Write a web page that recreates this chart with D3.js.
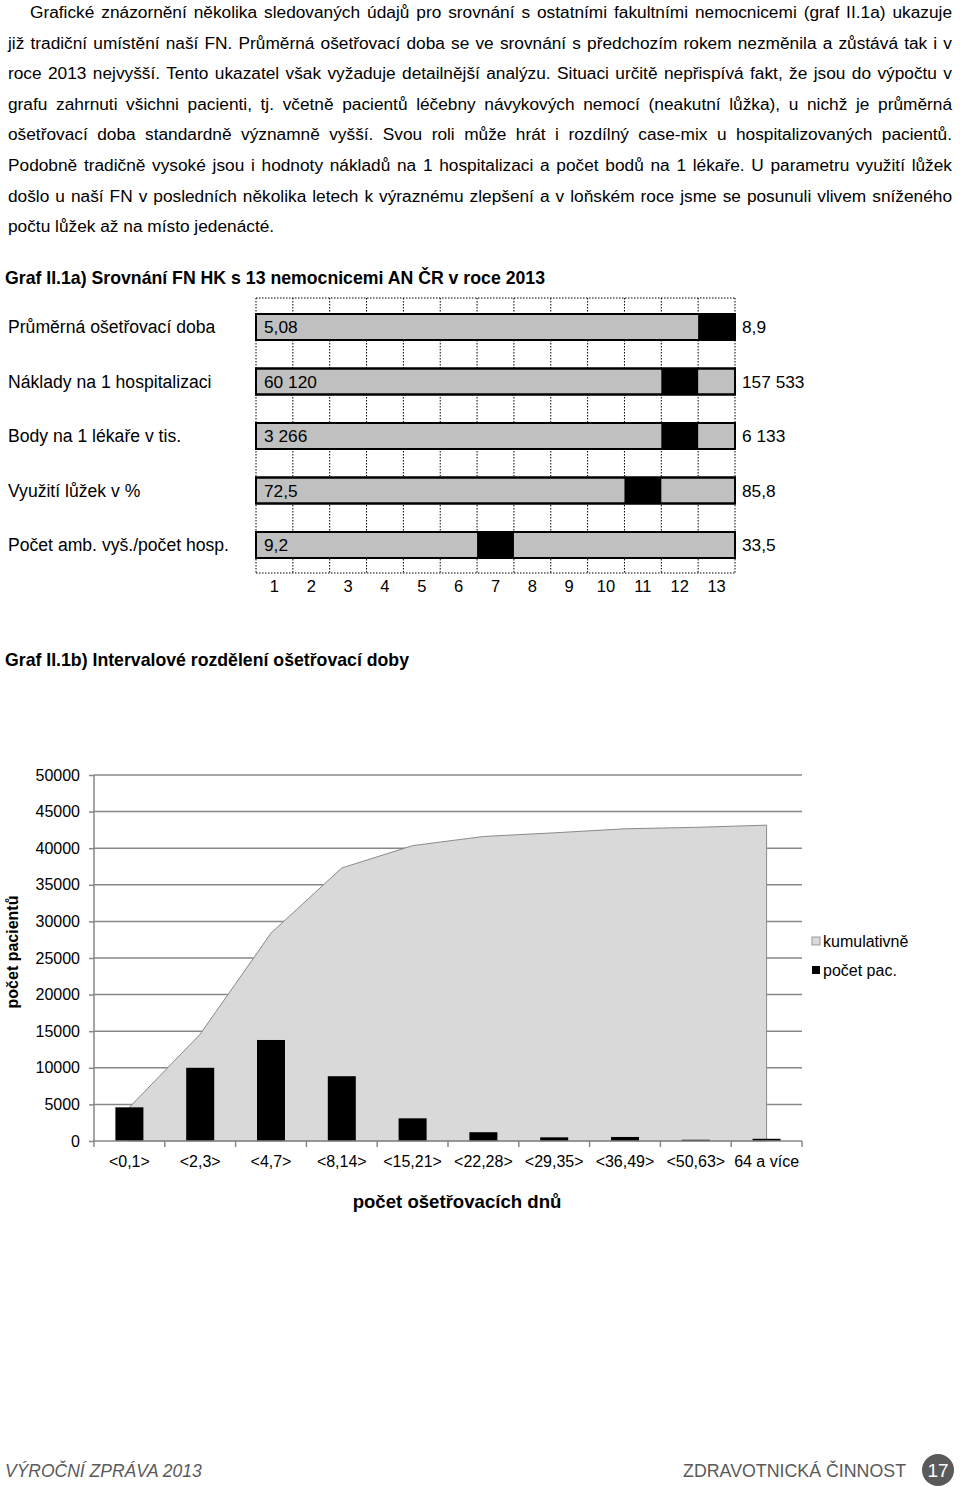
<!DOCTYPE html>
<html><head><meta charset="utf-8">
<script src="https://cdn.jsdelivr.net/npm/d3@7"></script>
<style>
html,body{margin:0;padding:0;background:#fff;}
svg{display:block;font-family:"Liberation Sans",Arial,sans-serif;}
</style></head>
<body>
<svg id="page" width="960" height="1487"></svg>
<script>
// ---------- DATA ----------
const bodyLines = [
  "Grafické znázornění několika sledovaných údajů pro srovnání s ostatními fakultními nemocnicemi (graf II.1a) ukazuje",
  "již tradiční umístění naší FN. Průměrná ošetřovací doba se ve srovnání s předchozím rokem nezměnila a zůstává tak i v",
  "roce 2013 nejvyšší. Tento ukazatel však vyžaduje detailnější analýzu. Situaci určitě nepřispívá fakt, že jsou do výpočtu v",
  "grafu zahrnuti všichni pacienti, tj. včetně pacientů léčebny návykových nemocí (neakutní lůžka), u nichž je průměrná",
  "ošetřovací doba standardně významně vyšší. Svou roli může hrát i rozdílný case-mix u hospitalizovaných pacientů.",
  "Podobně tradičně vysoké jsou i hodnoty nákladů na 1 hospitalizaci a počet bodů na 1 lékaře. U parametru využití lůžek",
  "došlo u naší FN v posledních několika letech k výraznému zlepšení a v loňském roce jsme se posunuli vlivem sníženého",
  "počtu lůžek až na místo jedenácté."
];
const title1 = "Graf II.1a) Srovnání FN HK s 13 nemocnicemi AN ČR v roce 2013";
const title2 = "Graf II.1b) Intervalové rozdělení ošetřovací doby";

// chart 1
const indicators = ["Průměrná ošetřovací doba","Náklady na 1 hospitalizaci","Body na 1 lékaře v tis.","Využití lůžek v %","Počet amb. vyš./počet hosp."];
const minValues = ["5,08","60 120","3 266","72,5","9,2"];
const maxValues = ["8,9","157 533","6 133","85,8","33,5"];
const fnhkRank = [13,12,12,11,7];
const ranks = [1,2,3,4,5,6,7,8,9,10,11,12,13];

// chart 2
const intervals = ["<0,1>","<2,3>","<4,7>","<8,14>","<15,21>","<22,28>","<29,35>","<36,49>","<50,63>","64 a více"];
const patientCounts = [4600,10000,13800,8850,3100,1200,500,550,170,300];
const cumulative = [4600,14600,28400,37300,40350,41600,42100,42650,42850,43150];
const yTicks = [0,5000,10000,15000,20000,25000,30000,35000,40000,45000,50000];
const legendItems = ["kumulativně","počet pac."];

const svg = d3.select("#page");

// ---------- BODY TEXT (justified) ----------
bodyLines.forEach((line,i)=>{
  const x0 = i===0 ? 30 : 8;
  const x1 = 952;
  const t = svg.append("text").attr("x",x0).attr("y",18+30.6*i)
    .attr("font-size",17.3).attr("fill","#000").text(line);
  if(i < bodyLines.length-1){
    const len = t.node().getComputedTextLength();
    const spaces = (line.match(/ /g)||[]).length;
    const ws = (x1-x0-len)/spaces;
    t.attr("word-spacing", ws);
  }
});

// ---------- CHART 1 ----------
svg.append("text").attr("x",5).attr("y",284).attr("font-size",17.7).attr("font-weight","bold").text(title1);

const x1s = d3.scaleBand().domain(ranks).range([256,735]).padding(0);
const y1s = d3.scaleBand().domain(indicators).range([299.75,572.25]).padding(0);
const g1 = svg.append("g");
// dotted grid
const bnd = [...ranks.map(r=>x1s(r)), x1s(13)+x1s.bandwidth()];
g1.selectAll("line.v").data(bnd).join("line")
  .attr("x1",d=>d).attr("x2",d=>d).attr("y1",298).attr("y2",573)
  .attr("stroke","#000").attr("stroke-width",1).attr("stroke-dasharray","1.5,1.5");
[298,573].forEach(yy=>{
  g1.append("line").attr("x1",256).attr("x2",735).attr("y1",yy).attr("y2",yy)
    .attr("stroke","#000").attr("stroke-width",1).attr("stroke-dasharray","1.5,1.5");
});
const bh = 26;
indicators.forEach((ind,i)=>{
  const cy = y1s(ind)+y1s.bandwidth()/2;
  g1.append("rect").attr("x",x1s(1)).attr("y",cy-bh/2)
    .attr("width",x1s(13)+x1s.bandwidth()-x1s(1)).attr("height",bh)
    .attr("fill","#c0c0c0").attr("stroke","#000").attr("stroke-width",2);
  g1.append("rect").attr("x",x1s(fnhkRank[i])).attr("y",cy-bh/2)
    .attr("width",x1s.bandwidth()).attr("height",bh).attr("fill","#000");
  g1.append("rect").attr("x",x1s(1)).attr("y",cy-bh/2)
    .attr("width",x1s(13)+x1s.bandwidth()-x1s(1)).attr("height",bh)
    .attr("fill","none").attr("stroke","#000").attr("stroke-width",2);
  g1.append("text").attr("x",8).attr("y",cy+6).attr("font-size",17.6).text(ind);
  g1.append("text").attr("x",x1s(1)+8).attr("y",cy+6).attr("font-size",17.3).text(minValues[i]);
  g1.append("text").attr("x",742).attr("y",cy+6).attr("font-size",17.3).text(maxValues[i]);
});
g1.selectAll("text.rank").data(ranks).join("text")
  .attr("x",d=>x1s(d)+x1s.bandwidth()/2).attr("y",592)
  .attr("text-anchor","middle").attr("font-size",16.5).text(d=>d);

// ---------- CHART 2 ----------
svg.append("text").attr("x",5).attr("y",666).attr("font-size",17.7).attr("font-weight","bold").text(title2);

const x2 = d3.scaleBand().domain(intervals).range([94,802]).padding(0);
const y2 = d3.scaleLinear().domain([0,50000]).range([1141,775]);
const g2 = svg.append("g");
// grid
g2.selectAll("line.grid").data(yTicks.filter(d=>d>0)).join("line")
  .attr("x1",94).attr("x2",802).attr("y1",d=>y2(d)).attr("y2",d=>y2(d))
  .attr("stroke","#878787").attr("stroke-width",1.5);
// area
const cx = d=>x2(d)+x2.bandwidth()/2;
const areaData = intervals.map((c,i)=>({c,v:cumulative[i]}));
g2.append("path").datum(areaData)
  .attr("d", d3.area().x(d=>cx(d.c)).y0(y2(0)).y1(d=>y2(d.v)))
  .attr("fill","#d9d9d9").attr("stroke","#8a8a8a").attr("stroke-width",1);
// bars
const bw = 28;
g2.selectAll("rect.bar").data(intervals).join("rect")
  .attr("x",d=>cx(d)-bw/2).attr("width",bw)
  .attr("y",(d,i)=>y2(patientCounts[i])).attr("height",(d,i)=>y2(0)-y2(patientCounts[i]))
  .attr("fill","#000");
// y axis
const yAx = g2.append("g").attr("transform","translate(94,0)")
  .call(d3.axisLeft(y2).tickValues(yTicks).tickSize(5).tickPadding(9).tickFormat(d3.format("d")));
yAx.select(".domain").attr("stroke","#878787").attr("stroke-width",1.5).attr("d","M0,775V1141");
yAx.selectAll(".tick line").attr("stroke","#878787").attr("stroke-width",1.5);
yAx.selectAll(".tick text").attr("font-size",16).attr("font-family","Liberation Sans, Arial, sans-serif").attr("fill","#000");
// x axis
g2.append("line").attr("x1",94).attr("x2",802).attr("y1",y2(0)).attr("y2",y2(0))
  .attr("stroke","#878787").attr("stroke-width",1.5);
const xb = [...intervals.map(c=>x2(c)), 802];
g2.selectAll("line.xt").data(xb).join("line")
  .attr("x1",d=>d).attr("x2",d=>d).attr("y1",y2(0)).attr("y2",y2(0)+6)
  .attr("stroke","#878787").attr("stroke-width",1.5);
g2.selectAll("text.xl").data(intervals).join("text")
  .attr("x",d=>cx(d)).attr("y",1167).attr("text-anchor","middle").attr("font-size",16).text(d=>d);
// axis titles
svg.append("text").attr("transform","translate(18,952) rotate(-90)")
  .attr("text-anchor","middle").attr("font-size",16).attr("font-weight","bold").text("počet pacientů");
svg.append("text").attr("x",457).attr("y",1208).attr("text-anchor","middle")
  .attr("font-size",18.6).attr("font-weight","bold").text("počet ošetřovacích dnů");
// legend
const lg = svg.append("g");
lg.append("rect").attr("x",812).attr("y",937).attr("width",8).attr("height",8)
  .attr("fill","#d9d9d9").attr("stroke","#9a9a9a").attr("stroke-width",1);
lg.append("rect").attr("x",812).attr("y",966).attr("width",8).attr("height",8).attr("fill","#000");
lg.append("text").attr("x",823).attr("y",947).attr("font-size",16).text(legendItems[0]);
lg.append("text").attr("x",823).attr("y",976).attr("font-size",16).text(legendItems[1]);

// ---------- FOOTER ----------
svg.append("text").attr("x",5).attr("y",1477).attr("font-size",17.5).attr("font-style","italic")
  .attr("fill","#5a5a5a").text("VÝROČNÍ ZPRÁVA 2013");
svg.append("text").attr("x",906).attr("y",1477).attr("font-size",17.8).attr("text-anchor","end")
  .attr("fill","#5a5a5a").text("ZDRAVOTNICKÁ ČINNOST");
svg.append("circle").attr("cx",938).attr("cy",1470).attr("r",16).attr("fill","#5a5a5a");
svg.append("text").attr("x",938).attr("y",1477).attr("text-anchor","middle").attr("font-size",19)
  .attr("fill","#fff").text("17");
</script>
</body></html>
